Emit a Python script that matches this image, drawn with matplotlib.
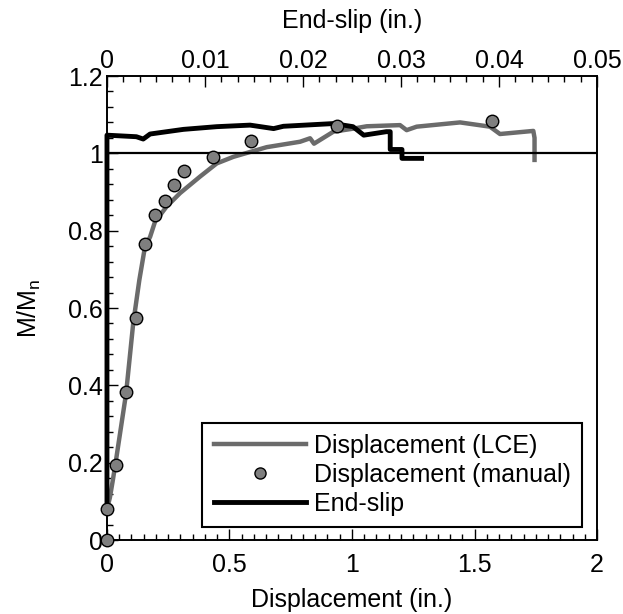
"""M/Mn vs displacement and end-slip (dual x-axis)."""

import matplotlib

matplotlib.use("Agg")
import matplotlib.pyplot as plt
from matplotlib.lines import Line2D
from matplotlib.ticker import FuncFormatter, MultipleLocator, AutoMinorLocator

plt.rcParams["font.family"] = ["Liberation Sans", "DejaVu Sans"]
plt.rcParams["mathtext.default"] = "regular"

# Displacement (LCE), bottom axis (in.)
lce_x = [0.0, 0.012, 0.024, 0.037, 0.078, 0.107, 0.132, 0.155, 0.176, 0.196, 0.243,
         0.298, 0.38, 0.448, 0.516, 0.652, 0.788, 0.829, 0.845, 0.924, 1.006, 1.06,
         1.196, 1.223, 1.264, 1.441, 1.563, 1.604, 1.74, 1.745, 1.745]
lce_y = [0.08, 0.11, 0.155, 0.207, 0.379, 0.56, 0.672, 0.758, 0.784, 0.823, 0.862,
         0.897, 0.94, 0.974, 0.991, 1.016, 1.03, 1.039, 1.025, 1.056, 1.064, 1.07,
         1.073, 1.06, 1.069, 1.08, 1.069, 1.05, 1.058, 1.04, 0.983]

# Displacement (manual)
man_x = [0.0, 0.0, 0.037, 0.078, 0.117, 0.156, 0.196, 0.237, 0.275, 0.314, 0.434,
         0.588, 0.94, 1.573]
man_y = [0.0, 0.08, 0.194, 0.383, 0.573, 0.765, 0.84, 0.877, 0.917, 0.954, 0.991,
         1.033, 1.07, 1.083]

# End-slip, top axis (in.)
slip_x = [0.0, 0.0, 0.003, 0.0037, 0.0044, 0.0078, 0.0112, 0.0146, 0.017, 0.018,
          0.0231, 0.0251, 0.0262, 0.0285, 0.0289, 0.0289, 0.0301, 0.0301, 0.0321]
slip_y = [0.08, 1.047, 1.043, 1.037, 1.05, 1.062, 1.069, 1.073, 1.064, 1.07,
          1.077, 1.069, 1.047, 1.056, 1.056, 1.01, 1.01, 0.987, 0.987]

FS = 18
fmt = FuncFormatter(lambda v, p: f"{v:g}")

fig = plt.figure(figsize=(6.23, 6.14), dpi=100)
ax = fig.add_axes([0.1717, 0.1205, 0.7866, 0.7557])
ax.set_xlim(0, 2)
ax.set_ylim(0, 1.2)
ax2 = ax.twiny()
ax2.set_xlim(0, 0.05)

ax.plot(lce_x, lce_y, color="#6b6b6b", lw=3.2, zorder=2)
ax.axhline(1.0, color="black", lw=1.6, zorder=2)
ax2.plot(slip_x, slip_y, color="black", lw=3.5, zorder=2, clip_on=False)
ax2.plot(man_x, man_y, "o", ms=9, mfc="#7f7f7f", mec="black", mew=1,
         transform=ax.transData, zorder=3, clip_on=False)

ax.xaxis.set_major_locator(MultipleLocator(0.5))
ax.xaxis.set_minor_locator(MultipleLocator(0.05))
ax.yaxis.set_major_locator(MultipleLocator(0.2))
ax.yaxis.set_minor_locator(MultipleLocator(0.04))
ax2.xaxis.set_major_locator(MultipleLocator(0.01))
ax2.xaxis.set_minor_locator(AutoMinorLocator(6))
for a in (ax, ax2):
    a.xaxis.set_major_formatter(fmt)
ax.yaxis.set_major_formatter(fmt)

ax.tick_params(axis="x", which="both", direction="in", top=False, labelsize=FS, pad=9)
ax.tick_params(axis="y", which="both", direction="in", right=False, labelsize=FS, pad=3)
ax.tick_params(which="major", length=8, width=1)
ax.tick_params(which="minor", length=4, width=1)
ax2.tick_params(axis="x", which="both", direction="in", labelsize=FS, pad=2)
ax2.tick_params(which="major", length=8, width=1)
ax2.tick_params(which="minor", length=4, width=1)

for a in (ax, ax2):
    for s in a.spines.values():
        s.set_linewidth(1.2)

ax.set_xlabel("Displacement (in.)", fontsize=FS, labelpad=8)
ax.set_ylabel("M/M$_n$", fontsize=FS, labelpad=18)
ax2.set_xlabel("End-slip (in.)", fontsize=FS, labelpad=15)

handles = [
    Line2D([], [], color="#6b6b6b", lw=3.2),
    Line2D([], [], ls="none", marker="o", ms=8, mfc="#7f7f7f", mec="black", mew=1),
    Line2D([], [], color="black", lw=3.5),
]
labels = ["Displacement (LCE)", "Displacement (manual)", "End-slip"]
leg = ax2.legend(handles, labels, loc="lower right", bbox_to_anchor=(0.969, 0.028),
                 fontsize=FS, frameon=True, fancybox=False, framealpha=1,
                 edgecolor="black", borderaxespad=0, handlelength=3.7,
                 handletextpad=0.3, labelspacing=0.2, borderpad=0.45)
leg.get_frame().set_linewidth(1.5)

fig.savefig("out.png", dpi=100)
